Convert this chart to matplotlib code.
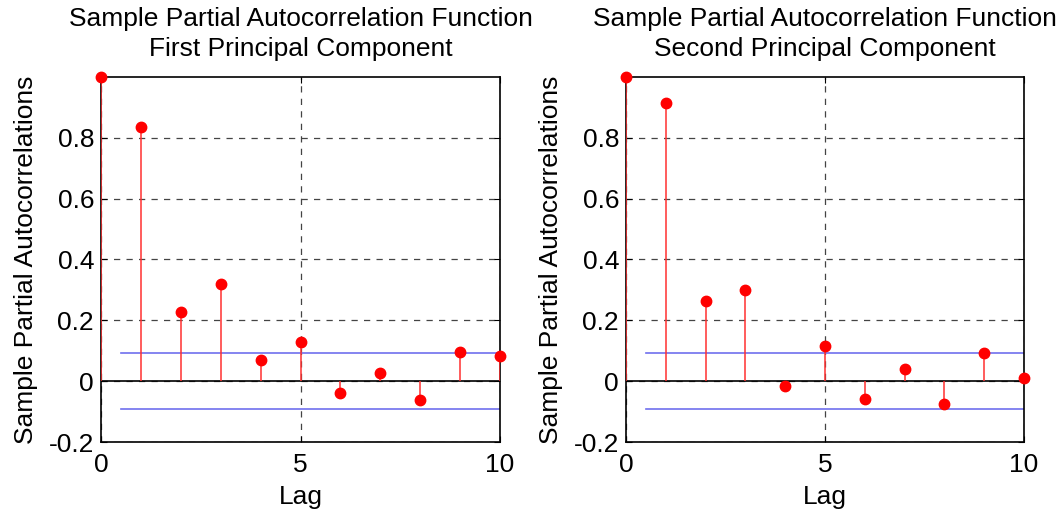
import numpy as np
import matplotlib.pyplot as plt

plt.rcParams["font.family"] = ["Liberation Sans", "DejaVu Sans"]

lags = list(range(11))
pacf_first = [1.0, 0.835, 0.229, 0.321, 0.070, 0.130, -0.040, 0.026, -0.062, 0.096, 0.083]
pacf_second = [1.0, 0.916, 0.262, 0.301, -0.015, 0.116, -0.060, 0.039, -0.075, 0.091, 0.011]
bound = 0.0915
titles = ["Sample Partial Autocorrelation Function\nFirst Principal Component",
          "Sample Partial Autocorrelation Function\nSecond Principal Component"]


def draw_pacf(ax, values, title):
    ax.vlines(lags, 0, values, colors="#ff3030", linewidth=1.1, zorder=3)
    ax.plot(lags, values, "o", color="red", markersize=7.5, zorder=4, clip_on=False)
    ax.plot([0.5, 10], [bound, bound], color="#6f6fee", linewidth=1.2, zorder=2)
    ax.plot([0.5, 10], [-bound, -bound], color="#6f6fee", linewidth=1.2, zorder=2)
    ax.axhline(0, color="black", linewidth=1.2, zorder=2)
    ax.set_xlim(0, 10)
    ax.set_ylim(-0.2, 1.0)
    ax.set_xticks([0, 5, 10])
    ax.set_yticks([-0.2, 0, 0.2, 0.4, 0.6, 0.8])
    ax.set_yticklabels(["-0.2", "0", "0.2", "0.4", "0.6", "0.8"])
    ax.grid(True, color="#444444", linestyle=(0, (5, 5)), linewidth=0.9)
    ax.tick_params(direction="in", labelsize=19, length=4, top=True, right=True)
    ax.tick_params(axis="x", pad=8)
    ax.tick_params(axis="y", pad=5)
    ax.set_xlabel("Lag", fontsize=19, labelpad=6)
    ax.set_ylabel("Sample Partial Autocorrelations", fontsize=19, labelpad=8)
    ax.set_title(title, fontsize=19, linespacing=1.35, pad=15)
    for s in ax.spines.values():
        s.set_linewidth(1.2)


fig = plt.figure(figsize=(10.6, 5.16), dpi=100)
ax1 = fig.add_axes([0.0953, 0.1434, 0.3764, 0.7074])
ax2 = fig.add_axes([0.5906, 0.1434, 0.3755, 0.7074])
draw_pacf(ax1, pacf_first, titles[0])
draw_pacf(ax2, pacf_second, titles[1])

fig.savefig("out.png", dpi=100)
